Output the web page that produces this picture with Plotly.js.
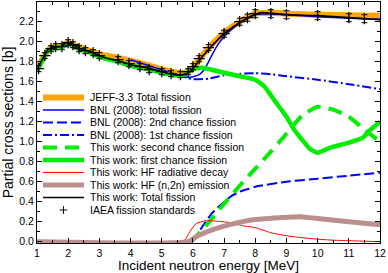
<!DOCTYPE html>
<html><head><meta charset="utf-8">
<script src="https://cdn.plot.ly/plotly-3.0.1.min.js"></script>
<style>html,body{margin:0;padding:0;background:#fff}#chart{width:388px;height:273px}</style>
</head><body><div id="chart"></div>
<script>
// ---- data ----
const jeffE = [1.0,1.2,1.4,1.6,1.8,2.0,2.2,2.5,3.0,3.5,4.0,4.5,5.0,5.5,5.8,6.0,6.3,6.6,7.0,7.5,8.0,8.5,9.0,10.0,11.0,12.0];
const jeffV = [1.72,1.84,1.93,1.95,1.96,1.99,1.965,1.93,1.875,1.845,1.81,1.77,1.725,1.69,1.695,1.74,1.86,1.97,2.09,2.20,2.28,2.29,2.28,2.27,2.265,2.26];

const bnlTotE = [4.0,4.5,5.0,5.5,5.8,6.0,6.2,6.4,6.6,6.8,7.0,7.3,7.6,8.0,8.5,9.0,10.0,11.0,12.0];
const bnlTotV = [1.82,1.77,1.72,1.67,1.645,1.65,1.67,1.74,1.86,1.97,2.05,2.14,2.21,2.27,2.28,2.27,2.25,2.235,2.225];

const bnl2E = [6.0,6.3,6.6,6.9,7.2,7.5,7.8,8.0,9.0,10.0,11.0,12.0];
const bnl2V = [0.0,0.15,0.28,0.37,0.45,0.50,0.53,0.55,0.60,0.63,0.66,0.69];

const bnl1E = [5.5,5.8,6.0,6.5,7.0,7.5,8.0,8.5,9.0,10.0,11.0,12.0];
const bnl1V = [1.665,1.64,1.625,1.63,1.665,1.68,1.685,1.675,1.655,1.62,1.575,1.525];

const secE = [5.9,6.1,6.5,7.0,7.5,8.0,8.5,9.0,9.5,10.0,10.5,11.0,11.5,12.0];
const secV = [0.0,0.05,0.19,0.38,0.56,0.73,0.90,1.08,1.26,1.35,1.32,1.25,1.12,1.0];

const firstE = [1.0,1.1,1.2,1.3,1.4,1.6,1.8,1.95,2.05,2.2,2.4,2.6,2.8,3.0,3.3,3.6,4.0,4.5,5.0,5.4,5.7,5.9,6.1,6.3,6.6,7.0,7.5,8.0,8.3,8.6,9.0,9.25,9.5,9.75,10.0,10.4,11.0,11.45,11.7,12.0];
const firstV = [1.71,1.77,1.83,1.89,1.92,1.94,1.945,1.98,1.975,1.95,1.92,1.90,1.88,1.85,1.82,1.80,1.76,1.73,1.69,1.665,1.665,1.71,1.735,1.74,1.72,1.69,1.655,1.62,1.55,1.42,1.25,1.12,1.02,0.93,0.89,0.94,0.99,1.04,1.12,1.20];

const radE = [1.0,5.6,5.75,5.9,6.1,6.4,6.8,7.2,7.6,8.0,8.5,9.0,9.5,10.0,10.5,11.0,12.0];
const radV = [0.0,0.0,0.02,0.10,0.18,0.21,0.205,0.19,0.16,0.14,0.09,0.06,0.04,0.025,0.015,0.01,0.0];

const n2nE = [1.0,5.85,6.1,6.64,7.18,7.93,8.78,9.43,10.07,11.0,12.0];
const n2nV = [0.0,0.0,0.05,0.12,0.17,0.22,0.24,0.25,0.23,0.20,0.17];

const totE = [1.0,1.1,1.2,1.3,1.4,1.6,1.8,1.95,2.05,2.2,2.4,2.6,2.8,3.0,3.3,3.6,4.0,4.5,5.0,5.4,5.7,5.9,6.1,6.3,6.5,6.8,7.0,7.3,7.6,7.9,8.2,8.5,9.0,10.0,11.0,12.0];
const totV = [1.72,1.78,1.84,1.90,1.93,1.95,1.955,1.99,1.985,1.96,1.93,1.91,1.89,1.86,1.83,1.81,1.77,1.74,1.70,1.67,1.67,1.70,1.77,1.85,1.92,2.02,2.08,2.15,2.21,2.26,2.29,2.285,2.27,2.26,2.24,2.22];

const iaeaE = [1.05,1.25,1.45,1.6,1.8,2.0,2.15,2.35,2.55,2.8,3.0,3.6,3.95,4.3,4.6,5.0,5.3,5.6,5.85,6.0,6.2,6.5,7.0,7.5,7.75,8.0,8.5,9.0,10.0,11.0,11.5];
const iaeaV = [1.73,1.86,1.93,1.95,1.95,1.99,1.97,1.93,1.91,1.89,1.86,1.82,1.78,1.75,1.72,1.70,1.68,1.67,1.70,1.75,1.83,1.94,2.08,2.20,2.24,2.28,2.28,2.27,2.26,2.24,2.23];
const iaeaErr = [0.03,0.03,0.03,0.03,0.03,0.03,0.03,0.03,0.03,0.03,0.03,0.03,0.03,0.03,0.03,0.03,0.03,0.03,0.03,0.03,0.03,0.03,0.035,0.035,0.035,0.04,0.04,0.04,0.04,0.04,0.04];

const legendLabels = ["JEFF-3.3 Total fission","BNL (2008): total fission","BNL (2008): 2nd chance fission","BNL (2008): 1st chance fission","This work: second chance fission","This work: first chance fission","This work: HF radiative decay","This work: HF (n,2n) emission","This work: Total fission","IAEA fission standards"];

// ---- styles ----
const FONT = "Liberation Sans, Arial, Helvetica, sans-serif";
const st = [
  {color:"#ffa500", width:6, dash:"solid"},
  {color:"#0000ff", width:1.5, dash:"solid"},
  {color:"#0000ff", width:2, dash:"10px,4px"},
  {color:"#0000ff", width:2, dash:"9px,3px,2px,3px"},
  {color:"#00ee00", width:4, dash:"14px,8px"},
  {color:"#00ee00", width:4.5, dash:"solid"},
  {color:"#ff0000", width:1, dash:"solid"},
  {color:"#bc8f8f", width:5, dash:"solid"},
  {color:"#000000", width:1.7, dash:"solid"}
];
const series = [[jeffE,jeffV],[bnlTotE,bnlTotV],[bnl2E,bnl2V],[bnl1E,bnl1V],[secE,secV],[firstE,firstV],[radE,radV],[n2nE,n2nV],[totE,totV]];
const traces = series.map((s,i)=>({x:s[0], y:s[1], type:"scatter", mode:"lines", name:legendLabels[i],
  line:{color:st[i].color, width:st[i].width, dash:st[i].dash, shape:"spline", smoothing:0.5}, hoverinfo:"skip"}));
traces.push({x:iaeaE, y:iaeaV, type:"scatter", mode:"markers", name:legendLabels[9],
  marker:{symbol:"cross-thin", size:8, color:"#000", line:{width:1.2, color:"#000"}},
  error_y:{type:"data", array:iaeaErr, visible:true, width:3, thickness:1, color:"#000"}});

// ---- hand-built legend (paper coordinates) ----
const shapes = [], annotations = [];
const lx0 = 0.0175, lx1 = 0.137, ltx = 0.153, ly0 = 0.604, ldy = 0.0519;
legendLabels.forEach((lab,i)=>{
  const y = ly0 - i*ldy;
  if (i < 9) {
    shapes.push({type:"line", xref:"paper", yref:"paper", x0:lx0, x1:lx1, y0:y, y1:y,
      line:{color:st[i].color, width:st[i].width, dash:st[i].dash}});
  } else {
    const cx = (lx0+lx1)/2, hx = 0.011, hy = 0.016;
    shapes.push({type:"line", xref:"paper", yref:"paper", x0:cx-hx, x1:cx+hx, y0:y, y1:y, line:{color:"#000", width:1}});
    shapes.push({type:"line", xref:"paper", yref:"paper", x0:cx, x1:cx, y0:y-hy, y1:y+hy, line:{color:"#000", width:1}});
  }
  annotations.push({xref:"paper", yref:"paper", x:ltx, y:y, text:lab, showarrow:false,
    xanchor:"left", yanchor:"middle", font:{family:FONT, size:10.5, color:"#000"}, borderpad:0});
});

const axisCommon = {showgrid:false, zeroline:false, showline:true, linecolor:"#000", linewidth:1,
  mirror:"allticks", ticks:"inside", ticklen:5, tickwidth:1, tickcolor:"#000",
  tickfont:{family:FONT, size:10.5, color:"#000"}};

const layout = {
  width:388, height:273, margin:{l:37, r:8, t:2, b:30},
  paper_bgcolor:"#fff", plot_bgcolor:"#fff", showlegend:false,
  font:{family:FONT, color:"#000"},
  xaxis:Object.assign({}, axisCommon, {range:[1,12], dtick:1, tick0:0, ticklabelstandoff:0,
    minor:{dtick:0.5, ticks:"inside", ticklen:3, tickcolor:"#000"},
    title:{text:"Incident neutron energy [MeV]", font:{family:FONT, size:13.5, color:"#000"}, standoff:0}}),
  yaxis:Object.assign({}, axisCommon, {range:[-0.013,2.397], dtick:0.2, tick0:0, tickformat:".1f",
    minor:{dtick:0.1, ticks:"inside", ticklen:3, tickcolor:"#000"},
    title:{text:"Partial cross sections [b]", font:{family:FONT, size:14, color:"#000"}, standoff:2}}),
  shapes:shapes, annotations:annotations
};
Plotly.newPlot("chart", traces, layout, {staticPlot:true, displayModeBar:false});
</script></body></html>
